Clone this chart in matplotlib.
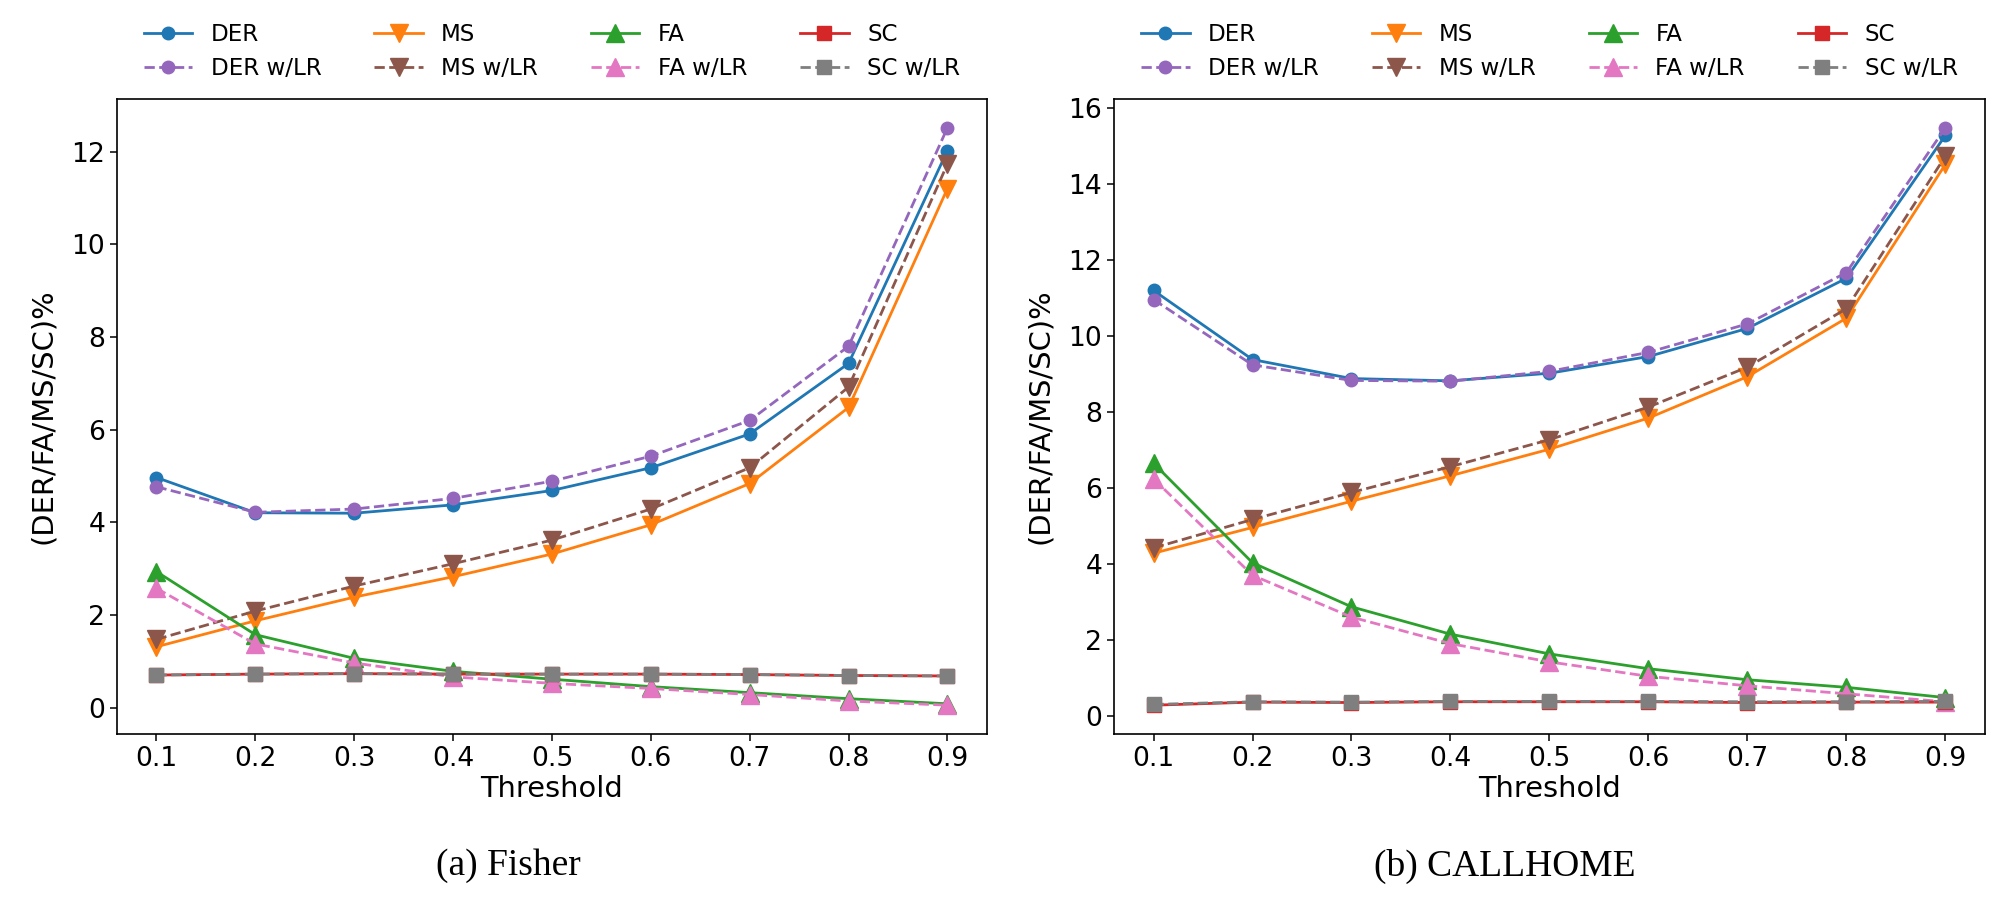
import matplotlib
matplotlib.use("Agg")
import matplotlib.pyplot as plt

thresholds = [0.1, 0.2, 0.3, 0.4, 0.5, 0.6, 0.7, 0.8, 0.9]

# Fisher
fisher_der = [4.97, 4.21, 4.20, 4.38, 4.69, 5.18, 5.91, 7.43, 12.02]
fisher_der_lr = [4.77, 4.22, 4.29, 4.52, 4.89, 5.43, 6.20, 7.80, 12.51]
fisher_ms = [1.32, 1.88, 2.39, 2.83, 3.32, 3.95, 4.84, 6.48, 11.20]
fisher_ms_lr = [1.48, 2.09, 2.63, 3.11, 3.62, 4.29, 5.18, 6.92, 11.73]
fisher_fa = [2.94, 1.58, 1.07, 0.79, 0.62, 0.46, 0.33, 0.20, 0.09]
fisher_fa_lr = [2.58, 1.38, 0.97, 0.67, 0.53, 0.42, 0.29, 0.15, 0.06]
fisher_sc = [0.71, 0.73, 0.74, 0.73, 0.73, 0.73, 0.72, 0.70, 0.69]
fisher_sc_lr = [0.71, 0.73, 0.74, 0.73, 0.73, 0.73, 0.72, 0.70, 0.69]

# CALLHOME
callhome_der = [11.20, 9.38, 8.88, 8.82, 9.02, 9.46, 10.20, 11.52, 15.28]
callhome_der_lr = [10.96, 9.24, 8.83, 8.81, 9.07, 9.57, 10.32, 11.67, 15.48]
callhome_ms = [4.28, 4.96, 5.65, 6.32, 7.02, 7.84, 8.93, 10.47, 14.52]
callhome_ms_lr = [4.42, 5.17, 5.88, 6.56, 7.27, 8.13, 9.18, 10.72, 14.73]
callhome_fa = [6.65, 4.03, 2.87, 2.15, 1.63, 1.24, 0.95, 0.75, 0.48]
callhome_fa_lr = [6.24, 3.70, 2.60, 1.90, 1.42, 1.04, 0.79, 0.58, 0.37]
callhome_sc = [0.28, 0.36, 0.35, 0.37, 0.37, 0.37, 0.35, 0.36, 0.36]
callhome_sc_lr = [0.30, 0.37, 0.36, 0.38, 0.38, 0.38, 0.37, 0.37, 0.38]

plt.rcParams['font.family'] = 'DejaVu Sans'


def draw(ax, der, der_lr, ms, ms_lr, fa, fa_lr, sc, sc_lr):
    lw = 2.0
    ax.plot(thresholds, der, color='tab:blue', marker='o', ms=9, lw=lw, label='DER')
    ax.plot(thresholds, der_lr, color='tab:purple', marker='o', ms=9, lw=lw, ls='--', label='DER w/LR')
    ax.plot(thresholds, ms, color='tab:orange', marker='v', ms=13, lw=lw, label='MS')
    ax.plot(thresholds, ms_lr, color='tab:brown', marker='v', ms=13, lw=lw, ls='--', label='MS w/LR')
    ax.plot(thresholds, fa, color='tab:green', marker='^', ms=13, lw=lw, label='FA')
    ax.plot(thresholds, fa_lr, color='tab:pink', marker='^', ms=13, lw=lw, ls='--', label='FA w/LR')
    ax.plot(thresholds, sc, color='tab:red', marker='s', ms=9.5, lw=lw, label='SC')
    ax.plot(thresholds, sc_lr, color='tab:gray', marker='s', ms=9.5, lw=lw, ls='--', label='SC w/LR')
    ax.set_xticks(thresholds)
    ax.set_xticklabels([str(t) for t in thresholds])
    ax.tick_params(labelsize=19.2, length=5, width=1.1)
    for s in ax.spines.values():
        s.set_linewidth(1.2)
    ax.set_xlabel('Threshold', fontsize=20.8, labelpad=2)
    ax.set_ylabel('(DER/FA/MS/SC)%', fontsize=20.8, labelpad=10)
    ax.legend(ncol=4, loc='lower center', bbox_to_anchor=(0.5, 0.997),
              frameon=False, fontsize=16.6, handlelength=2.1, columnspacing=2.3)


fig = plt.figure(figsize=(20.06, 9.06), dpi=100)
ax1 = fig.add_axes([0.0583, 0.1898, 0.4337, 0.7009])
ax2 = fig.add_axes([0.5553, 0.1898, 0.4342, 0.7009])

draw(ax1, fisher_der, fisher_der_lr, fisher_ms, fisher_ms_lr,
     fisher_fa, fisher_fa_lr, fisher_sc, fisher_sc_lr)
draw(ax2, callhome_der, callhome_der_lr, callhome_ms, callhome_ms_lr,
     callhome_fa, callhome_fa_lr, callhome_sc, callhome_sc_lr)

fig.text(508 / 2006, 1 - 866 / 906, '(a) Fisher', ha='center', va='center',
         fontsize=27, family='Liberation Serif')
fig.text(1505 / 2006, 1 - 866 / 906, '(b) CALLHOME', ha='center', va='center',
         fontsize=27, family='Liberation Serif')

fig.savefig('out.png', dpi=100)
